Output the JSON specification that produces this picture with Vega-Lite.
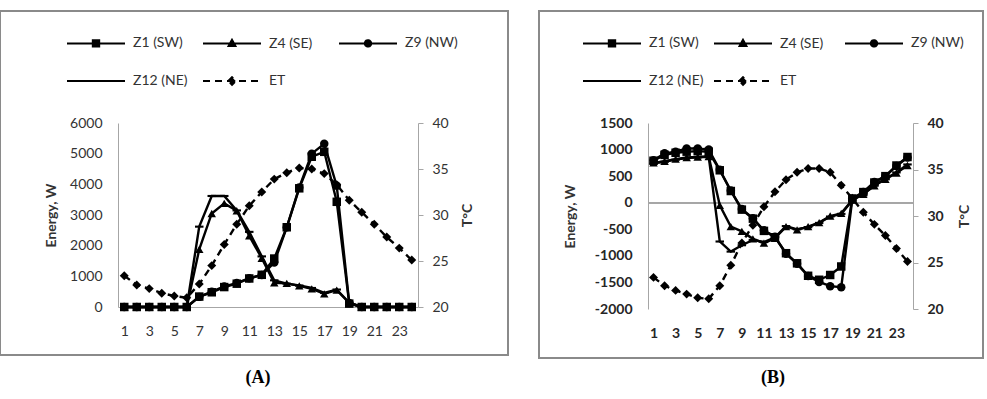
{
  "$schema": "https://vega.github.io/schema/vega-lite/v6.json",
  "padding": {"left": -1, "top": 10, "right": 0, "bottom": 0},
  "background": "white",
  "spacing": 31,
  "bounds": "flush",
  "datasets": {
    "A": [
      {"h":1,"s":"Z1 (SW)","v":0},{"h":2,"s":"Z1 (SW)","v":0},{"h":3,"s":"Z1 (SW)","v":0},{"h":4,"s":"Z1 (SW)","v":0},{"h":5,"s":"Z1 (SW)","v":0},{"h":6,"s":"Z1 (SW)","v":0},{"h":7,"s":"Z1 (SW)","v":340},{"h":8,"s":"Z1 (SW)","v":480},{"h":9,"s":"Z1 (SW)","v":650},{"h":10,"s":"Z1 (SW)","v":760},{"h":11,"s":"Z1 (SW)","v":930},{"h":12,"s":"Z1 (SW)","v":1050},{"h":13,"s":"Z1 (SW)","v":1580},{"h":14,"s":"Z1 (SW)","v":2600},{"h":15,"s":"Z1 (SW)","v":3870},{"h":16,"s":"Z1 (SW)","v":4900},{"h":17,"s":"Z1 (SW)","v":5060},{"h":18,"s":"Z1 (SW)","v":3430},{"h":19,"s":"Z1 (SW)","v":110},{"h":20,"s":"Z1 (SW)","v":0},{"h":21,"s":"Z1 (SW)","v":0},{"h":22,"s":"Z1 (SW)","v":0},{"h":23,"s":"Z1 (SW)","v":0},{"h":24,"s":"Z1 (SW)","v":0},
      {"h":1,"s":"Z4 (SE)","v":0},{"h":2,"s":"Z4 (SE)","v":0},{"h":3,"s":"Z4 (SE)","v":0},{"h":4,"s":"Z4 (SE)","v":0},{"h":5,"s":"Z4 (SE)","v":0},{"h":6,"s":"Z4 (SE)","v":0},{"h":7,"s":"Z4 (SE)","v":1880},{"h":8,"s":"Z4 (SE)","v":3050},{"h":9,"s":"Z4 (SE)","v":3380},{"h":10,"s":"Z4 (SE)","v":3140},{"h":11,"s":"Z4 (SE)","v":2320},{"h":12,"s":"Z4 (SE)","v":1590},{"h":13,"s":"Z4 (SE)","v":790},{"h":14,"s":"Z4 (SE)","v":770},{"h":15,"s":"Z4 (SE)","v":690},{"h":16,"s":"Z4 (SE)","v":590},{"h":17,"s":"Z4 (SE)","v":430},{"h":18,"s":"Z4 (SE)","v":550},{"h":19,"s":"Z4 (SE)","v":130},{"h":20,"s":"Z4 (SE)","v":0},{"h":21,"s":"Z4 (SE)","v":0},{"h":22,"s":"Z4 (SE)","v":0},{"h":23,"s":"Z4 (SE)","v":0},{"h":24,"s":"Z4 (SE)","v":0},
      {"h":1,"s":"Z9 (NW)","v":0},{"h":2,"s":"Z9 (NW)","v":0},{"h":3,"s":"Z9 (NW)","v":0},{"h":4,"s":"Z9 (NW)","v":0},{"h":5,"s":"Z9 (NW)","v":0},{"h":6,"s":"Z9 (NW)","v":0},{"h":7,"s":"Z9 (NW)","v":330},{"h":8,"s":"Z9 (NW)","v":500},{"h":9,"s":"Z9 (NW)","v":670},{"h":10,"s":"Z9 (NW)","v":780},{"h":11,"s":"Z9 (NW)","v":940},{"h":12,"s":"Z9 (NW)","v":1040},{"h":13,"s":"Z9 (NW)","v":1450},{"h":14,"s":"Z9 (NW)","v":2600},{"h":15,"s":"Z9 (NW)","v":3900},{"h":16,"s":"Z9 (NW)","v":5000},{"h":17,"s":"Z9 (NW)","v":5320},{"h":18,"s":"Z9 (NW)","v":3950},{"h":19,"s":"Z9 (NW)","v":130},{"h":20,"s":"Z9 (NW)","v":0},{"h":21,"s":"Z9 (NW)","v":0},{"h":22,"s":"Z9 (NW)","v":0},{"h":23,"s":"Z9 (NW)","v":0},{"h":24,"s":"Z9 (NW)","v":0},
      {"h":1,"s":"Z12 (NE)","v":0},{"h":2,"s":"Z12 (NE)","v":0},{"h":3,"s":"Z12 (NE)","v":0},{"h":4,"s":"Z12 (NE)","v":0},{"h":5,"s":"Z12 (NE)","v":0},{"h":6,"s":"Z12 (NE)","v":0},{"h":7,"s":"Z12 (NE)","v":2620},{"h":8,"s":"Z12 (NE)","v":3620},{"h":9,"s":"Z12 (NE)","v":3620},{"h":10,"s":"Z12 (NE)","v":3150},{"h":11,"s":"Z12 (NE)","v":2450},{"h":12,"s":"Z12 (NE)","v":1650},{"h":13,"s":"Z12 (NE)","v":870},{"h":14,"s":"Z12 (NE)","v":760},{"h":15,"s":"Z12 (NE)","v":700},{"h":16,"s":"Z12 (NE)","v":620},{"h":17,"s":"Z12 (NE)","v":460},{"h":18,"s":"Z12 (NE)","v":570},{"h":19,"s":"Z12 (NE)","v":140},{"h":20,"s":"Z12 (NE)","v":0},{"h":21,"s":"Z12 (NE)","v":0},{"h":22,"s":"Z12 (NE)","v":0},{"h":23,"s":"Z12 (NE)","v":0},{"h":24,"s":"Z12 (NE)","v":0},
      {"h":1,"s":"ET","v":23.4},{"h":2,"s":"ET","v":22.4},{"h":3,"s":"ET","v":22.0},{"h":4,"s":"ET","v":21.5},{"h":5,"s":"ET","v":21.2},{"h":6,"s":"ET","v":21.0},{"h":7,"s":"ET","v":22.5},{"h":8,"s":"ET","v":24.5},{"h":9,"s":"ET","v":26.8},{"h":10,"s":"ET","v":29.0},{"h":11,"s":"ET","v":31.0},{"h":12,"s":"ET","v":32.5},{"h":13,"s":"ET","v":33.9},{"h":14,"s":"ET","v":34.6},{"h":15,"s":"ET","v":35.1},{"h":16,"s":"ET","v":35.0},{"h":17,"s":"ET","v":34.5},{"h":18,"s":"ET","v":33.3},{"h":19,"s":"ET","v":31.6},{"h":20,"s":"ET","v":30.3},{"h":21,"s":"ET","v":29.0},{"h":22,"s":"ET","v":27.6},{"h":23,"s":"ET","v":26.4},{"h":24,"s":"ET","v":25.1}
    ],
    "B": [
      {"h":1,"s":"Z1 (SW)","v":790},{"h":2,"s":"Z1 (SW)","v":900},{"h":3,"s":"Z1 (SW)","v":940},{"h":4,"s":"Z1 (SW)","v":960},{"h":5,"s":"Z1 (SW)","v":970},{"h":6,"s":"Z1 (SW)","v":960},{"h":7,"s":"Z1 (SW)","v":610},{"h":8,"s":"Z1 (SW)","v":220},{"h":9,"s":"Z1 (SW)","v":-130},{"h":10,"s":"Z1 (SW)","v":-300},{"h":11,"s":"Z1 (SW)","v":-530},{"h":12,"s":"Z1 (SW)","v":-650},{"h":13,"s":"Z1 (SW)","v":-950},{"h":14,"s":"Z1 (SW)","v":-1140},{"h":15,"s":"Z1 (SW)","v":-1375},{"h":16,"s":"Z1 (SW)","v":-1450},{"h":17,"s":"Z1 (SW)","v":-1360},{"h":18,"s":"Z1 (SW)","v":-1200},{"h":19,"s":"Z1 (SW)","v":80},{"h":20,"s":"Z1 (SW)","v":200},{"h":21,"s":"Z1 (SW)","v":380},{"h":22,"s":"Z1 (SW)","v":500},{"h":23,"s":"Z1 (SW)","v":700},{"h":24,"s":"Z1 (SW)","v":860},
      {"h":1,"s":"Z4 (SE)","v":750},{"h":2,"s":"Z4 (SE)","v":780},{"h":3,"s":"Z4 (SE)","v":820},{"h":4,"s":"Z4 (SE)","v":850},{"h":5,"s":"Z4 (SE)","v":860},{"h":6,"s":"Z4 (SE)","v":870},{"h":7,"s":"Z4 (SE)","v":-50},{"h":8,"s":"Z4 (SE)","v":-450},{"h":9,"s":"Z4 (SE)","v":-540},{"h":10,"s":"Z4 (SE)","v":-680},{"h":11,"s":"Z4 (SE)","v":-760},{"h":12,"s":"Z4 (SE)","v":-670},{"h":13,"s":"Z4 (SE)","v":-450},{"h":14,"s":"Z4 (SE)","v":-510},{"h":15,"s":"Z4 (SE)","v":-450},{"h":16,"s":"Z4 (SE)","v":-375},{"h":17,"s":"Z4 (SE)","v":-250},{"h":18,"s":"Z4 (SE)","v":-200},{"h":19,"s":"Z4 (SE)","v":50},{"h":20,"s":"Z4 (SE)","v":160},{"h":21,"s":"Z4 (SE)","v":320},{"h":22,"s":"Z4 (SE)","v":440},{"h":23,"s":"Z4 (SE)","v":560},{"h":24,"s":"Z4 (SE)","v":700},
      {"h":1,"s":"Z9 (NW)","v":800},{"h":2,"s":"Z9 (NW)","v":930},{"h":3,"s":"Z9 (NW)","v":960},{"h":4,"s":"Z9 (NW)","v":1020},{"h":5,"s":"Z9 (NW)","v":1020},{"h":6,"s":"Z9 (NW)","v":1000},{"h":7,"s":"Z9 (NW)","v":620},{"h":8,"s":"Z9 (NW)","v":230},{"h":9,"s":"Z9 (NW)","v":-120},{"h":10,"s":"Z9 (NW)","v":-290},{"h":11,"s":"Z9 (NW)","v":-520},{"h":12,"s":"Z9 (NW)","v":-640},{"h":13,"s":"Z9 (NW)","v":-960},{"h":14,"s":"Z9 (NW)","v":-1150},{"h":15,"s":"Z9 (NW)","v":-1380},{"h":16,"s":"Z9 (NW)","v":-1490},{"h":17,"s":"Z9 (NW)","v":-1570},{"h":18,"s":"Z9 (NW)","v":-1590},{"h":19,"s":"Z9 (NW)","v":60},{"h":20,"s":"Z9 (NW)","v":200},{"h":21,"s":"Z9 (NW)","v":390},{"h":22,"s":"Z9 (NW)","v":500},{"h":23,"s":"Z9 (NW)","v":690},{"h":24,"s":"Z9 (NW)","v":850},
      {"h":1,"s":"Z12 (NE)","v":740},{"h":2,"s":"Z12 (NE)","v":770},{"h":3,"s":"Z12 (NE)","v":810},{"h":4,"s":"Z12 (NE)","v":840},{"h":5,"s":"Z12 (NE)","v":855},{"h":6,"s":"Z12 (NE)","v":865},{"h":7,"s":"Z12 (NE)","v":-730},{"h":8,"s":"Z12 (NE)","v":-920},{"h":9,"s":"Z12 (NE)","v":-800},{"h":10,"s":"Z12 (NE)","v":-700},{"h":11,"s":"Z12 (NE)","v":-740},{"h":12,"s":"Z12 (NE)","v":-650},{"h":13,"s":"Z12 (NE)","v":-440},{"h":14,"s":"Z12 (NE)","v":-500},{"h":15,"s":"Z12 (NE)","v":-460},{"h":16,"s":"Z12 (NE)","v":-380},{"h":17,"s":"Z12 (NE)","v":-260},{"h":18,"s":"Z12 (NE)","v":-210},{"h":19,"s":"Z12 (NE)","v":40},{"h":20,"s":"Z12 (NE)","v":170},{"h":21,"s":"Z12 (NE)","v":330},{"h":22,"s":"Z12 (NE)","v":450},{"h":23,"s":"Z12 (NE)","v":570},{"h":24,"s":"Z12 (NE)","v":720},
      {"h":1,"s":"ET","v":23.4},{"h":2,"s":"ET","v":22.5},{"h":3,"s":"ET","v":22.0},{"h":4,"s":"ET","v":21.6},{"h":5,"s":"ET","v":21.2},{"h":6,"s":"ET","v":21.1},{"h":7,"s":"ET","v":22.5},{"h":8,"s":"ET","v":24.7},{"h":9,"s":"ET","v":27.1},{"h":10,"s":"ET","v":29.0},{"h":11,"s":"ET","v":31.0},{"h":12,"s":"ET","v":32.6},{"h":13,"s":"ET","v":33.9},{"h":14,"s":"ET","v":34.7},{"h":15,"s":"ET","v":35.1},{"h":16,"s":"ET","v":35.1},{"h":17,"s":"ET","v":34.7},{"h":18,"s":"ET","v":33.3},{"h":19,"s":"ET","v":31.9},{"h":20,"s":"ET","v":30.4},{"h":21,"s":"ET","v":29.1},{"h":22,"s":"ET","v":27.9},{"h":23,"s":"ET","v":26.5},{"h":24,"s":"ET","v":25.1}
    ]
  },
  "hconcat": [
    {
      "width": 508,
      "height": 344,
      "data": {"name": "A"},
      "title": {"text": "(A)", "orient": "bottom", "font": "Liberation Serif", "fontSize": 18, "fontWeight": "bold", "color": "black", "offset": 14, "dx": 4},
      "encoding": {
        "x": {"field": "h", "type": "quantitative",
          "scale": {"domain": [0.5, 24.5], "range": [118, 418], "nice": false, "zero": false},
          "axis": {"values": [1,3,5,7,9,11,13,15,17,19,21,23], "format": "d", "ticks": false, "grid": false, "domain": true, "domainColor": "#A6A6A6", "labelPadding": 17, "labelFontSize": 14, "labelColor": "#333333", "title": null, "offset": -48, "labelFlush": false, "labelOverlap": false}}
      },
      "layer": [
        {
          "transform": [{"filter": "datum.s !== 'ET'"}],
          "encoding": {
            "y": {"field": "v", "type": "quantitative",
              "scale": {"domain": [0, 6000], "range": [296, 112], "nice": false, "zero": false},
              "axis": {"orient": "left", "offset": -118, "values": [0,1000,2000,3000,4000,5000,6000], "labelExpr": "'' + datum.value", "ticks": false, "grid": false, "domainColor": "#A6A6A6", "labelPadding": 16, "labelFontSize": 14, "labelColor": "#333333", "title": "Energy, W", "titleFontSize": 14, "titleFontWeight": "bold", "titleColor": "#333333", "titlePadding": 11}}
          },
          "layer": [
            {"mark": {"type": "line", "strokeWidth": 2.4},
             "encoding": {"color": {"field": "s", "type": "nominal",
               "scale": {"domain": ["Z1 (SW)", "Z4 (SE)", "Z9 (NW)", "Z12 (NE)", "ET"], "range": ["black", "black", "black", "black", "black"]},
               "legend": {"orient": "none", "legendX": 66, "legendY": 2, "title": null, "direction": "horizontal", "columns": 3, "gridAlign": "all", "columnPadding": 11, "rowPadding": 0, "labelOffset": 7, "symbolSize": 3364, "symbolStrokeWidth": 2, "symbolType": "stroke", "labelFont": "Lato", "labelFontSize": 14, "labelColor": "#333333", "padding": 0, "labelLimit": 200,
                 "encode": {"symbols": {"update": {
                   "shape": {"signal": "datum.value === 'Z1 (SW)' ? 'M-1,0H1M-0.11,-0.11H0.11V0.11H-0.11Z' : datum.value === 'Z4 (SE)' ? 'M-1,0H1M0,-0.13L0.12,0.09L-0.12,0.09Z' : datum.value === 'Z9 (NW)' ? 'M-1,0H1M-0.11,0A0.11,0.11,0,1,0,0.11,0A0.11,0.11,0,1,0,-0.11,0Z' : datum.value === 'ET' ? 'M-1,0H1M-0.13,0L0,-0.13L0.13,0L0,0.13Z' : 'M-1,0H1'"},
                   "strokeDash": {"signal": "datum.value === 'ET' ? [7,5] : [1,0]"},
                   "fill": {"value": "black"}, "stroke": {"value": "black"}, "strokeWidth": {"value": 2}, "size": {"value": 3364}, "opacity": {"value": 1}}}}}}}},
            {"mark": {"type": "point", "filled": true, "size": 72, "opacity": 1, "color": "black"},
             "encoding": {"shape": {"field": "s", "type": "nominal", "legend": null,
               "scale": {"domain": ["Z1 (SW)", "Z4 (SE)", "Z9 (NW)", "Z12 (NE)"], "range": ["square", "triangle-up", "circle", "M-1,-0.25H1V0.25H-1Z"]}}}}
          ]
        },
        {
          "transform": [{"filter": "datum.s === 'ET'"}],
          "encoding": {
            "y": {"field": "v", "type": "quantitative",
              "scale": {"domain": [20, 40], "range": [296, 112], "nice": false, "zero": false},
              "axis": {"orient": "right", "offset": -90, "values": [20,25,30,35,40], "ticks": true, "tickSize": 5, "tickColor": "#A6A6A6", "grid": false, "domainColor": "#A6A6A6", "labelPadding": 9, "labelFontSize": 14, "labelColor": "#333333", "title": "T°C", "titleAngle": 270, "titleFontSize": 14, "titleFontWeight": "bold", "titleColor": "#333333", "titlePadding": 26}}
          },
          "layer": [
            {"mark": {"type": "line", "strokeWidth": 2.4, "strokeDash": [7, 5], "color": "black"}},
            {"mark": {"type": "point", "shape": "diamond", "filled": true, "size": 80, "opacity": 1, "color": "black"}}
          ]
        }
      ],
      "resolve": {"scale": {"y": "independent"}}
    },
    {
      "width": 444,
      "height": 347,
      "data": {"name": "B"},
      "title": {"text": "(B)", "orient": "bottom", "font": "Liberation Serif", "fontSize": 18, "fontWeight": "bold", "color": "black", "offset": 11, "dx": 12},
      "encoding": {
        "x": {"field": "h", "type": "quantitative",
          "scale": {"domain": [0.5, 24.5], "range": [109, 374], "nice": false, "zero": false},
          "axis": {"values": [1,3,5,7,9,11,13,15,17,19,21,23], "format": "d", "ticks": false, "grid": false, "domain": false, "labelPadding": 17, "labelFontSize": 14, "labelFontWeight": "bold", "labelColor": "#262626", "title": null, "offset": -49, "labelFlush": false, "labelOverlap": false}}
      },
      "layer": [
        {
          "transform": [{"filter": "datum.s !== 'ET'"}],
          "encoding": {
            "y": {"field": "v", "type": "quantitative",
              "scale": {"domain": [-2000, 1500], "range": [298, 112], "nice": false, "zero": false},
              "axis": {"orient": "left", "offset": -109, "values": [-2000,-1500,-1000,-500,0,500,1000,1500], "labelExpr": "'' + datum.value", "ticks": false, "grid": false, "domainColor": "#A6A6A6", "labelPadding": 16, "labelFontSize": 14, "labelFontWeight": "bold", "labelColor": "#262626", "title": "Energy, W", "titleFontSize": 14, "titleFontWeight": "bold", "titleColor": "#333333", "titlePadding": 17}}
          },
          "layer": [
            {"mark": {"type": "rule", "color": "#A6A6A6", "strokeWidth": 1},
             "encoding": {"y": {"datum": 0}, "x": {"datum": 0.5}, "x2": {"datum": 24.5}}},
            {"mark": {"type": "line", "strokeWidth": 2.4},
             "encoding": {"color": {"field": "s", "type": "nominal",
               "scale": {"domain": ["Z1 (SW)", "Z4 (SE)", "Z9 (NW)", "Z12 (NE)", "ET"], "range": ["black", "black", "black", "black", "black"]},
               "legend": {"orient": "none", "legendX": 43, "legendY": 2, "title": null, "direction": "horizontal", "columns": 3, "gridAlign": "all", "columnPadding": 6, "rowPadding": 0, "labelOffset": 7, "symbolSize": 3364, "symbolStrokeWidth": 2, "symbolType": "stroke", "labelFont": "Lato", "labelFontSize": 14, "labelColor": "#333333", "padding": 0, "labelLimit": 200,
                 "encode": {"symbols": {"update": {
                   "shape": {"signal": "datum.value === 'Z1 (SW)' ? 'M-1,0H1M-0.11,-0.11H0.11V0.11H-0.11Z' : datum.value === 'Z4 (SE)' ? 'M-1,0H1M0,-0.13L0.12,0.09L-0.12,0.09Z' : datum.value === 'Z9 (NW)' ? 'M-1,0H1M-0.11,0A0.11,0.11,0,1,0,0.11,0A0.11,0.11,0,1,0,-0.11,0Z' : datum.value === 'ET' ? 'M-1,0H1M-0.13,0L0,-0.13L0.13,0L0,0.13Z' : 'M-1,0H1'"},
                   "strokeDash": {"signal": "datum.value === 'ET' ? [7,5] : [1,0]"},
                   "fill": {"value": "black"}, "stroke": {"value": "black"}, "strokeWidth": {"value": 2}, "size": {"value": 3364}, "opacity": {"value": 1}}}}}}}},
            {"mark": {"type": "point", "filled": true, "size": 72, "opacity": 1, "color": "black"},
             "encoding": {"shape": {"field": "s", "type": "nominal", "legend": null,
               "scale": {"domain": ["Z1 (SW)", "Z4 (SE)", "Z9 (NW)", "Z12 (NE)"], "range": ["square", "triangle-up", "circle", "M-1,-0.25H1V0.25H-1Z"]}}}}
          ]
        },
        {
          "transform": [{"filter": "datum.s === 'ET'"}],
          "encoding": {
            "y": {"field": "v", "type": "quantitative",
              "scale": {"domain": [20, 40], "range": [298, 112], "nice": false, "zero": false},
              "axis": {"orient": "right", "offset": -70, "values": [20,25,30,35,40], "ticks": true, "tickSize": 5, "tickColor": "#A6A6A6", "grid": false, "domainColor": "#A6A6A6", "labelPadding": 9, "labelFontSize": 14, "labelFontWeight": "bold", "labelColor": "#262626", "title": "T°C", "titleAngle": 270, "titleFontSize": 14, "titleFontWeight": "bold", "titleColor": "#333333", "titlePadding": 28}}
          },
          "layer": [
            {"mark": {"type": "line", "strokeWidth": 2.4, "strokeDash": [7, 5], "color": "black"}},
            {"mark": {"type": "point", "shape": "diamond", "filled": true, "size": 80, "opacity": 1, "color": "black"}}
          ]
        }
      ],
      "resolve": {"scale": {"y": "independent"}}
    }
  ],
  "resolve": {"scale": {"color": "independent", "shape": "independent", "x": "independent", "y": "independent"}, "legend": {"color": "independent"}},
  "config": {
    "view": {"stroke": "#8a8a8a", "strokeWidth": 2},
    "font": "Lato",
    "axis": {"labelFont": "Lato", "titleFont": "Lato", "grid": false}
  }
}
